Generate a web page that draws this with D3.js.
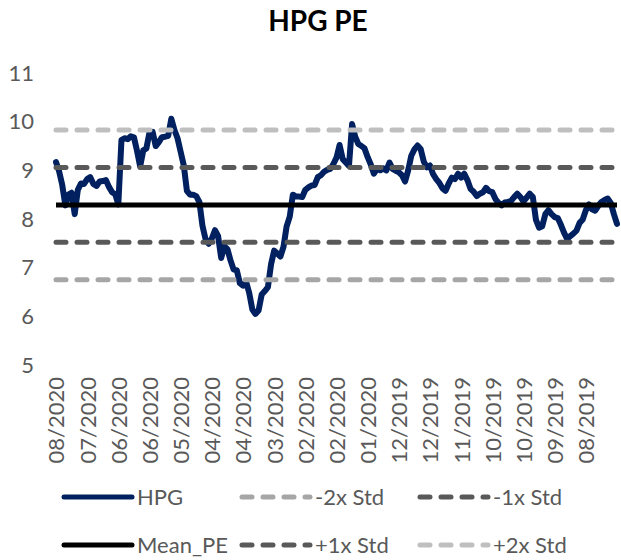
<!DOCTYPE html>
<html>
<head>
<meta charset="utf-8">
<script src="https://cdn.jsdelivr.net/npm/d3@7"></script>
<style>
  body { margin: 0; background: #fff; }
  svg { font-family: Lato, "Open Sans", sans-serif; }
</style>
</head>
<body>
<div id="chart"></div>
<script>
// HPG P/E, newest on the left (08/2020) back to 08/2019 on the right
var hpgPE = [
	9.17, 8.98, 8.70, 8.28, 8.50, 8.54, 8.10, 8.60, 8.73, 8.72,
	8.82, 8.86, 8.72, 8.68, 8.77, 8.78, 8.80, 8.66, 8.55, 8.51,
	8.30, 9.62, 9.66, 9.64, 9.70, 9.68, 9.40, 9.08, 9.41, 9.45,
	9.78, 9.79, 9.50, 9.58, 9.68, 9.69, 9.71, 10.06, 9.83, 9.66,
	9.38, 9.10, 8.58, 8.50, 8.50, 8.47, 8.35, 7.86, 7.58, 7.49,
	7.60, 7.77, 7.65, 7.20, 7.44, 7.38, 7.15, 6.96, 6.95, 6.68,
	6.63, 6.71, 6.48, 6.14, 6.05, 6.12, 6.45, 6.52, 6.60, 7.07,
	7.35, 7.29, 7.23, 7.43, 7.85, 8.05, 8.50, 8.46, 8.46, 8.45,
	8.60, 8.65, 8.69, 8.70, 8.86, 8.90, 8.97, 9.01, 9.03, 9.13,
	9.26, 9.52, 9.23, 9.16, 9.09, 9.95, 9.69, 9.54, 9.50, 9.45,
	9.27, 9.12, 8.93, 9.03, 9.00, 9.04, 9.00, 9.16, 9.03, 8.99,
	8.96, 8.90, 8.77, 9.00, 9.30, 9.43, 9.51, 9.44, 9.18, 9.06,
	9.10, 8.92, 8.82, 8.74, 8.63, 8.58, 8.73, 8.85, 8.82, 8.93,
	8.85, 8.93, 8.80, 8.62, 8.56, 8.47, 8.52, 8.55, 8.64, 8.57,
	8.55, 8.41, 8.33, 8.28, 8.34, 8.35, 8.37, 8.45, 8.52, 8.45,
	8.36, 8.44, 8.52, 8.45, 7.98, 7.82, 7.85, 8.10, 8.18, 8.10,
	8.04, 8.02, 7.88, 7.72, 7.59, 7.65, 7.70, 7.76, 7.92, 7.99,
	8.18, 8.30, 8.20, 8.17, 8.27, 8.35, 8.39, 8.42, 8.33, 8.10,
	7.90
];

// one label every 10 points
var dateLabels = ["08/2020", "07/2020", "06/2020", "06/2020", "05/2020", "04/2020",
	"04/2020", "03/2020", "02/2020", "02/2020", "01/2020", "12/2019",
	"12/2019", "11/2019", "10/2019", "10/2019", "09/2019", "08/2019"];
var labelStep = 10;

// flat reference lines
var bandNames = ["-2x Std", "-1x Std", "Mean_PE", "+1x Std", "+2x Std"];
var bandValues = [6.75, 7.52, 8.29, 9.06, 9.83];
var bandColors = ["#a6a6a6", "#595959", "#000000", "#595959", "#bfbfbf"];

var yTicks = [5, 6, 7, 8, 9, 10, 11];

var width = 621, height = 560;
var fontSize = "22px";

var svg = d3.select("#chart").append("svg")
	.attr("width", width)
	.attr("height", height);

var x = d3.scaleLinear().domain([0, hpgPE.length - 1]).range([56, 617]);
var y = d3.scaleLinear().domain([5, 11]).range([365, 73]);

// title
svg.append("text")
	.attr("x", 318)
	.attr("y", 31)
	.attr("text-anchor", "middle")
	.style("font-size", "28px")
	.style("font-weight", "bold")
	.style("fill", "#000")
	.text("HPG PE");

// y axis
var yAxis = svg.append("g")
	.attr("transform", "translate(34,0)")
	.call(d3.axisLeft(y).tickValues(yTicks).tickSize(0).tickPadding(0).tickFormat(d3.format("d")));
yAxis.select(".domain").remove();
yAxis.selectAll("text")
	.style("font-size", fontSize)
	.style("font-family", "Lato, 'Open Sans', sans-serif")
	.style("fill", "#595959");

// x axis, rotated labels
var labelIdx = dateLabels.map(function(d, i) { return i * labelStep; });
var xAxis = svg.append("g")
	.attr("transform", "translate(0,377)")
	.call(d3.axisBottom(x).tickValues(labelIdx).tickSize(0)
		.tickFormat(function(d) { return dateLabels[d / labelStep]; }));
xAxis.select(".domain").remove();
xAxis.selectAll("text")
	.attr("transform", "rotate(-90)")
	.attr("text-anchor", "end")
	.attr("x", 0)
	.attr("y", 0)
	.attr("dy", "0.36em")
	.style("font-size", fontSize)
	.style("font-family", "Lato, 'Open Sans', sans-serif")
	.style("fill", "#595959");

// HPG line
var line = d3.line()
	.x(function(d, i) { return x(i); })
	.y(function(d) { return y(d); });

svg.append("path")
	.datum(hpgPE)
	.attr("d", line)
	.style("fill", "none")
	.style("stroke", "#002060")
	.style("stroke-width", 6)
	.style("stroke-linejoin", "round")
	.style("stroke-linecap", "round");

// reference lines on top
svg.selectAll(".band")
	.data(bandValues)
	.enter().append("line")
	.attr("class", "band")
	.attr("x1", x(0))
	.attr("x2", x(hpgPE.length - 1))
	.attr("y1", function(d) { return y(d); })
	.attr("y2", function(d) { return y(d); })
	.style("stroke", function(d, i) { return bandColors[i]; })
	.style("stroke-width", 5)
	.style("stroke-linecap", function(d, i) { return i == 2 ? "butt" : "round"; })
	.style("stroke-dasharray", function(d, i) { return i == 2 ? null : "10,11"; });

// legend
var legendItems = [
	{ name: "HPG", color: "#002060", dash: null },
	{ name: bandNames[0], color: bandColors[0], dash: "10,11" },
	{ name: bandNames[1], color: bandColors[1], dash: "10,11" },
	{ name: bandNames[2], color: bandColors[2], dash: null },
	{ name: bandNames[3], color: bandColors[3], dash: "10,11" },
	{ name: bandNames[4], color: bandColors[4], dash: "10,11" }
];

var legend = svg.selectAll(".legend")
	.data(legendItems)
	.enter().append("g")
	.attr("class", "legend")
	.attr("transform", function(d, i) {
		return "translate(" + (64 + (i % 3) * 178) + "," + (497 + Math.floor(i / 3) * 48) + ")";
	});

legend.append("line")
	.attr("x1", 0)
	.attr("x2", 68)
	.style("stroke", function(d) { return d.color; })
	.style("stroke-width", 5)
	.style("stroke-linecap", "round")
	.style("stroke-dasharray", function(d) { return d.dash; });

legend.append("text")
	.attr("x", 73)
	.attr("dy", "0.36em")
	.style("font-size", fontSize)
	.style("fill", "#595959")
	.text(function(d) { return d.name; });
</script>
</body>
</html>
